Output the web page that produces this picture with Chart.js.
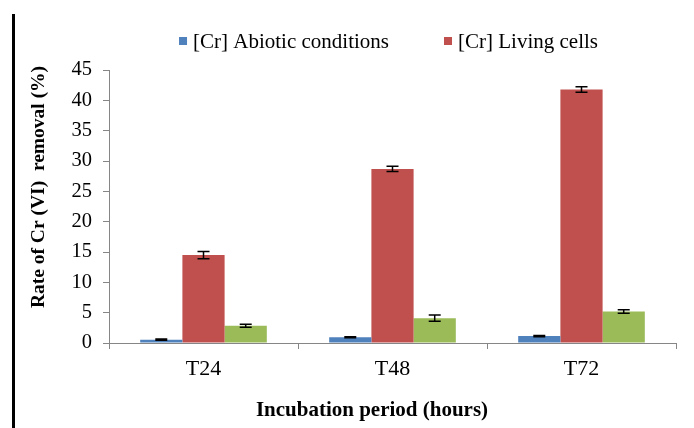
<!DOCTYPE html>
<html>
<head>
<meta charset="utf-8">
<script src="https://cdn.jsdelivr.net/npm/chart.js"></script>
<style>
  html, body { margin: 0; padding: 0; background: #fff; }
  #wrap { width: 694px; height: 428px; }
</style>
</head>
<body>
<div id="wrap"><canvas id="chart"></canvas></div>
<script>
const categories = ['T24', 'T48', 'T72'];
const abioticValues = [0.55, 0.95, 1.15];
const abioticErrors = [0.1, 0.1, 0.1];
const livingValues = [14.5, 28.7, 41.8];
const livingErrors = [0.6, 0.45, 0.45];
const otherValues = [2.85, 4.1, 5.2];
const otherErrors = [0.25, 0.5, 0.3];
const yTicks = [0, 5, 10, 15, 20, 25, 30, 35, 40, 45];

const serif = "'Liberation Serif', 'Times New Roman', serif";
const axisGray = '#868686';

// error bars, drawn from each bar's own x and the y scale
const errorBars = {
    id: 'errorBars',
    afterDatasetsDraw(chart) {
        const ctx = chart.ctx;
        const y = chart.scales.y;
        ctx.save();
        ctx.strokeStyle = '#000';
        ctx.lineWidth = 1.5;
        chart.data.datasets.forEach((ds, i) => {
            const meta = chart.getDatasetMeta(i);
            meta.data.forEach((bar, j) => {
                const v = ds.data[j], e = ds.errors[j];
                const top = y.getPixelForValue(v + e);
                const bot = y.getPixelForValue(v - e);
                ctx.beginPath();
                ctx.moveTo(bar.x, top); ctx.lineTo(bar.x, bot);
                ctx.moveTo(bar.x - 6, top); ctx.lineTo(bar.x + 6, top);
                ctx.moveTo(bar.x - 6, bot); ctx.lineTo(bar.x + 6, bot);
                ctx.stroke();
            });
        });
        ctx.restore();
    }
};

// legend (only labelled series), axis titles and the left frame line
const decorations = {
    id: 'decorations',
    afterDraw(chart) {
        const ctx = chart.ctx;
        ctx.save();
        ctx.fillStyle = '#000';
        ctx.fillRect(12, 14, 3, 414);

        ctx.font = '21px ' + serif;
        ctx.textBaseline = 'middle';
        const items = chart.data.datasets.filter(d => d.label);
        const gap = 55;
        const widths = items.map(d => 8 + 6 + ctx.measureText(d.label).width);
        const total = widths.reduce((a, b) => a + b, 0) + gap * (items.length - 1);
        let x = 388.5 - total / 2;
        items.forEach((d, i) => {
            ctx.fillStyle = d.backgroundColor;
            ctx.fillRect(x, 37, 8, 8);
            ctx.fillStyle = '#000';
            ctx.textAlign = 'left';
            ctx.fillText(d.label, x + 14, 42);
            x += widths[i] + gap;
        });

        ctx.textAlign = 'center';
        ctx.font = 'bold 21px ' + serif;
        ctx.fillText('Incubation period (hours)', 372, 411);
        ctx.font = 'bold 19.5px ' + serif;
        ctx.translate(39, 187);
        ctx.rotate(-Math.PI / 2);
        ctx.fillText('Rate of Cr (VI)  removal (%)', 0, 0);
        ctx.restore();
    }
};

new Chart(document.getElementById('chart'), {
    type: 'bar',
    data: {
        labels: categories,
        datasets: [
            { label: '[Cr] Abiotic conditions', data: abioticValues, errors: abioticErrors, backgroundColor: '#4F81BD' },
            { label: '[Cr] Living cells', data: livingValues, errors: livingErrors, backgroundColor: '#C0504D' },
            { label: '', data: otherValues, errors: otherErrors, backgroundColor: '#9BBB59' }
        ]
    },
    options: {
        responsive: true,
        maintainAspectRatio: false,
        animation: false,
        layout: { padding: { top: 70, right: 18, left: 0, bottom: 0 } },
        datasets: { bar: { categoryPercentage: 0.67, barPercentage: 1 } },
        plugins: {
            legend: { display: false },
            tooltip: { enabled: false }
        },
        scales: {
            x: {
                afterFit: s => { s.height = 85; },
                grid: { offset: true, drawOnChartArea: false, tickLength: 6, color: axisGray },
                border: { color: axisGray },
                ticks: { font: { family: serif, size: 22 }, color: '#000', padding: 7 }
            },
            y: {
                min: 0,
                max: 45,
                afterFit: s => { s.width = 109; },
                afterBuildTicks: s => { s.ticks = yTicks.map(v => ({ value: v })); },
                grid: { drawOnChartArea: false, tickLength: 6, color: axisGray },
                border: { color: axisGray },
                ticks: { font: { family: serif, size: 20.5 }, color: '#000', padding: 11 }
            }
        }
    },
    plugins: [errorBars, decorations]
});
</script>
</body>
</html>
